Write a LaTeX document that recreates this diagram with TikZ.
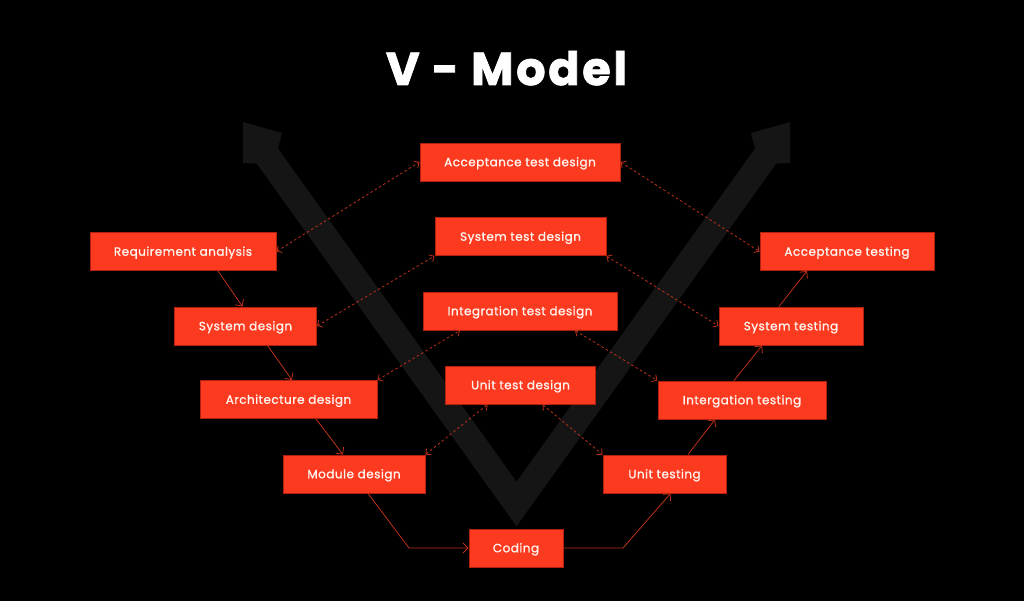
\documentclass[tikz,border=0pt]{standalone}
\usepackage{fontspec}
\setmainfont{Poppins}
\newfontfamily\boxfont[LetterSpace=4,FakeBold=1.2]{Poppins}
\newfontfamily\titlefont[LetterSpace=6,FakeBold=1.8]{Poppins Bold}
\usetikzlibrary{arrows.meta,calc}
\definecolor{boxred}{HTML}{FC3A1F}
\definecolor{boxedge}{HTML}{B0220F}
\definecolor{boxtext}{HTML}{FFF3EE}
\definecolor{linered}{HTML}{C0301A}
\definecolor{vgrey}{HTML}{151515}
\begin{document}
\begin{tikzpicture}[x=1pt,y=-1pt,
  vbox/.style={fill=boxred,draw=boxedge,line width=0.9pt,minimum height=38pt,inner sep=0pt,
    text=boxtext,font=\boxfont\fontsize{12}{14}\selectfont,text height=8.5pt,text depth=0pt},
  flow/.style={draw=linered,line width=0.8pt,-{Straight Barb[length=5pt,width=10pt]}},
  link/.style={draw=linered,line width=0.8pt,dash pattern=on 2.5pt off 2.5pt,
    {Straight Barb[length=4pt,width=8pt]}-{Straight Barb[length=4pt,width=8pt]}}]
\fill[black] (0,0) rectangle (1024,601);
\useasboundingbox (0,0) rectangle (1024,601);
% big V arrow
\fill[vgrey] (243,122) -- (282,133) -- (278,148.5) -- (516.5,481.7) -- (755,148.5) -- (751,133)
  -- (790,122) -- (790,163) -- (776.2,163.7) -- (516.5,526.3) -- (256.8,163.7) -- (243,163) -- cycle;
% title
\node[font=\titlefont\fontsize{46}{50}\selectfont,text=white,anchor=base,inner sep=0pt] (title) at (506.5,85) {V - Model};
% boxes
\node[vbox,minimum width=200pt] (atd) at (520,162) {Acceptance test design};
\node[vbox,minimum width=171pt] (std) at (520.5,236.5) {System test design};
\node[vbox,minimum width=194pt] (itd) at (520,311) {Integration test design};
\node[vbox,minimum width=150pt] (utd) at (520.5,385) {Unit test design};
\node[vbox,minimum width=186pt] (req) at (183,251.5) {Requirement analysis};
\node[vbox,minimum width=142pt] (sd) at (245.5,326) {System design};
\node[vbox,minimum width=177pt] (ad) at (288.5,399.5) {Architecture design};
\node[vbox,minimum width=142pt] (md) at (354,474) {Module design};
\node[vbox,minimum width=94pt] (cod) at (516,548) {Coding};
\node[vbox,minimum width=123pt] (ut) at (664.5,474) {Unit testing};
\node[vbox,minimum width=168pt] (it) at (742,400) {Intergation testing};
\node[vbox,minimum width=144pt] (st) at (791,326) {System testing};
\node[vbox,minimum width=174pt] (at) at (847,251.5) {Acceptance testing};
% bends
\coordinate (b1) at (409,548);
\coordinate (b2) at (623,548);
% solid flow
\draw[flow] ([xshift=35pt]req.south) -- ([xshift=-3pt]sd.north);
\draw[flow] ([xshift=22pt]sd.south) -- ([xshift=3.5pt]ad.north);
\draw[flow] ([xshift=27.5pt]ad.south) -- ([xshift=-11pt]md.north);
\draw[flow] ([xshift=14pt]md.south) -- (b1) -- (cod.west);
\draw[flow] (cod.east) -- (b2) -- ([xshift=6pt]ut.south);
\draw[flow] ([xshift=23.5pt]ut.north) -- ([xshift=-27pt]it.south);
\draw[flow] ([xshift=-8pt]it.north) -- ([xshift=-29pt]st.south);
\draw[flow] ([xshift=-12pt]st.north) -- ([xshift=-40pt]at.south);
% dashed links
\draw[link] (req.east) -- (atd.west);
\draw[link] (sd.east) -- (std.south west);
\draw[link] (ad.north east) -- ([xshift=-60pt]itd.south);
\draw[link] (md.north east) -- ([xshift=-33pt]utd.south);
\draw[link] ([xshift=22pt]utd.south) -- (ut.north west);
\draw[link] ([xshift=55pt]itd.south) -- (it.north west);
\draw[link] (std.south east) -- (st.west);
\draw[link] (atd.east) -- (at.west);
\end{tikzpicture}
\end{document}
